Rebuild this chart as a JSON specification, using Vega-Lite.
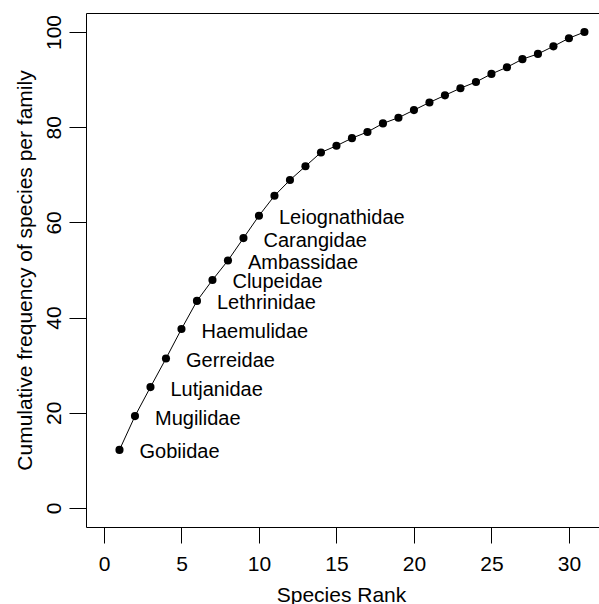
{
  "$schema": "https://vega.github.io/schema/vega-lite/v6.json",
  "width": 513,
  "height": 514,
  "autosize": {"type": "none"},
  "padding": {"left": 86, "top": 13, "right": 0, "bottom": 77},
  "background": "white",
  "config": {
    "view": {"stroke": null},
    "font": "Liberation Sans",
    "axis": {"grid": false, "domainColor": "black", "tickColor": "black", "labelColor": "black", "titleColor": "black", "labelFont": "Liberation Sans", "titleFont": "Liberation Sans", "labelFontSize": 21, "titleFontSize": 21, "titleFontWeight": "normal", "domainWidth": 1, "tickWidth": 1, "labelOverlap": false, "labelFlush": false}
  },
  "data": {
    "values": [
      {"rank": 1, "cum": 12.2, "family": "Gobiidae"},
      {"rank": 2, "cum": 19.3, "family": "Mugilidae"},
      {"rank": 3, "cum": 25.4, "family": "Lutjanidae"},
      {"rank": 4, "cum": 31.4, "family": "Gerreidae"},
      {"rank": 5, "cum": 37.6, "family": "Haemulidae"},
      {"rank": 6, "cum": 43.5, "family": "Lethrinidae"},
      {"rank": 7, "cum": 47.9, "family": "Clupeidae"},
      {"rank": 8, "cum": 52.0, "family": "Ambassidae"},
      {"rank": 9, "cum": 56.7, "family": "Carangidae"},
      {"rank": 10, "cum": 61.4, "family": "Leiognathidae"},
      {"rank": 11, "cum": 65.6},
      {"rank": 12, "cum": 68.9},
      {"rank": 13, "cum": 71.8},
      {"rank": 14, "cum": 74.7},
      {"rank": 15, "cum": 76.1},
      {"rank": 16, "cum": 77.7},
      {"rank": 17, "cum": 79.0},
      {"rank": 18, "cum": 80.8},
      {"rank": 19, "cum": 82.0},
      {"rank": 20, "cum": 83.6},
      {"rank": 21, "cum": 85.2},
      {"rank": 22, "cum": 86.7},
      {"rank": 23, "cum": 88.2},
      {"rank": 24, "cum": 89.5},
      {"rank": 25, "cum": 91.2},
      {"rank": 26, "cum": 92.6},
      {"rank": 27, "cum": 94.3},
      {"rank": 28, "cum": 95.4},
      {"rank": 29, "cum": 97.0},
      {"rank": 30, "cum": 98.7},
      {"rank": 31, "cum": 100.0}
    ]
  },
  "layer": [
    {
      "mark": {"type": "line", "color": "black", "strokeWidth": 1},
      "encoding": {
        "x": {"field": "rank", "type": "quantitative", "scale": {"domain": [-1.16, 31.94], "nice": false, "zero": false},
          "axis": {"orient": "bottom", "values": [0, 5, 10, 15, 20, 25, 30], "tickSize": 16, "labelBaseline": "alphabetic", "labelPadding": 27.8, "labelAlign": "center", "title": "Species Rank", "titleX": 255, "titleY": 74, "titleAlign": "center", "titleBaseline": "alphabetic"}},
        "y": {"field": "cum", "type": "quantitative", "scale": {"domain": [-4, 104], "nice": false, "zero": false},
          "axis": {"orient": "left", "values": [0, 20, 40, 60, 80, 100], "tickSize": 17, "labelAngle": 270, "labelAlign": "center", "labelBaseline": "alphabetic", "labelPadding": 9, "title": "Cumulative frequency of species per family", "titleAngle": 270, "titleX": -54.5, "titleY": 257, "titleAlign": "center", "titleBaseline": "alphabetic"}}
      }
    },
    {
      "mark": {"type": "point", "filled": true, "color": "black", "size": 66, "opacity": 1},
      "encoding": {
        "x": {"field": "rank", "type": "quantitative", "axis": {"orient": "top", "ticks": false, "labels": false, "title": null, "domain": true}},
        "y": {"field": "cum", "type": "quantitative", "axis": null}
      }
    },
    {
      "transform": [{"filter": "isValid(datum.family)"}],
      "mark": {"type": "text", "align": "left", "baseline": "alphabetic", "dx": 20, "dy": 8.5, "fontSize": 20, "color": "black", "font": "Liberation Sans"},
      "encoding": {
        "x": {"field": "rank", "type": "quantitative", "axis": null},
        "y": {"field": "cum", "type": "quantitative", "axis": null},
        "text": {"field": "family"}
      }
    }
  ],
  "resolve": {"axis": {"x": "independent", "y": "independent"}}
}
